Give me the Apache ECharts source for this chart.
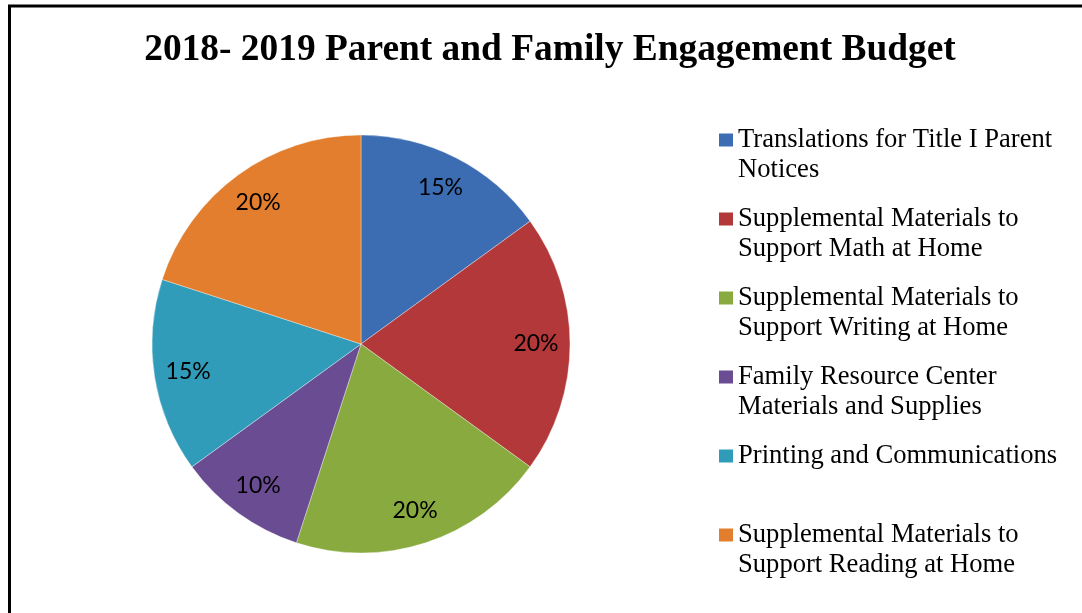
<!DOCTYPE html>
<html><head><meta charset="utf-8">
<script src="https://cdn.jsdelivr.net/npm/echarts@6/dist/echarts.min.js"></script>
<style>html,body{margin:0;padding:0;background:#fff}#c{width:1082px;height:613px}</style>
</head><body><div id="c"></div>
<script>
const titleText = '2018- 2019 Parent and Family Engagement Budget';
const categories = [
  'Translations for Title I Parent Notices',
  'Supplemental Materials to Support Math at Home',
  'Supplemental Materials to Support Writing at Home',
  'Family Resource Center Materials and Supplies',
  'Printing and Communications',
  'Supplemental Materials to Support Reading at Home'
];
const legendLines = [
  ['Translations for Title I Parent', 'Notices'],
  ['Supplemental Materials to', 'Support Math at Home'],
  ['Supplemental Materials to', 'Support Writing at Home'],
  ['Family Resource Center', 'Materials and Supplies'],
  ['Printing and Communications', ' '],
  ['Supplemental Materials to', 'Support Reading at Home']
];
const percentValues = [15, 20, 20, 10, 15, 20];
const colors = ['#3C6DB3', '#B3383A', '#89AA3F', '#6A4C92', '#319CB9', '#E27E2D'];

const rich = {
  g: { width: 5 },
  s: { width: 19 },
  t: { fontFamily: 'Liberation Serif', fontSize: 26.6, color: '#000', lineHeight: 30 }
};
colors.forEach((c, i) => { rich['m' + i] = { width: 14, height: 13, backgroundColor: c }; });

const chart = echarts.init(document.getElementById('c'), null, { renderer: 'canvas' });
chart.setOption({
  animation: false,
  backgroundColor: '#fff',
  color: colors,
  graphic: [{
    type: 'rect', silent: true, z: 100,
    shape: { x: 9.5, y: 6, width: 1200, height: 800 },
    style: { fill: 'none', stroke: '#000', lineWidth: 3 }
  }],
  title: {
    text: titleText, left: 545, textAlign: 'center', top: 27,
    textStyle: { fontFamily: 'Liberation Serif', fontWeight: 'bold', fontSize: 37.4, color: '#000' }
  },
  legend: {
    orient: 'vertical', left: 714, top: 125, padding: 0,
    icon: 'none', itemWidth: 0, itemHeight: 14, itemGap: 19,
    data: categories,
    formatter: function (name) {
      const i = categories.indexOf(name);
      const l = legendLines[i];
      return '{m' + i + '|}{g|}{t|' + l[0] + '}\n{s|}{t|' + l[1] + '}';
    },
    textStyle: { rich: rich, fontFamily: 'Liberation Serif', fontSize: 26.6, color: '#000', lineHeight: 30 }
  },
  series: [{
    type: 'pie', center: [361, 344], radius: 209, startAngle: 90, clockwise: true,
    label: { show: false }, labelLine: { show: false },
    itemStyle: { borderColor: 'rgba(255,255,255,0.35)', borderWidth: 1 },
    emphasis: { disabled: true },
    data: categories.map((n, i) => ({ name: n, value: percentValues[i] }))
  }, {
    type: 'pie', center: [361, 344], radius: [135, 209], startAngle: 90, clockwise: true, silent: true,
    itemStyle: { color: 'rgba(0,0,0,0)' },
    label: { show: true, position: 'inside', formatter: '{c}%', fontFamily: 'Lato', fontSize: 23, color: '#000' },
    labelLine: { show: false },
    emphasis: { disabled: true },
    data: categories.map((n, i) => ({ name: n, value: percentValues[i] }))
  }]
});
</script></body></html>
